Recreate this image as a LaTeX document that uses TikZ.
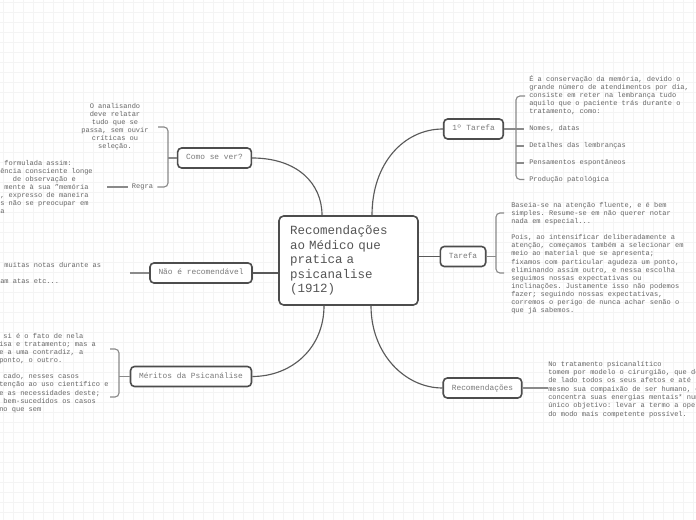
\documentclass[tikz,border=0pt]{standalone}
\usepackage{fontspec}
\setmainfont{Liberation Mono}
\usetikzlibrary{calc}
\frenchspacing
\definecolor{gridc}{HTML}{F4F4F4}
\definecolor{nodeb}{HTML}{4D4D4D}
\definecolor{linec}{HTML}{5A5A5A}
\definecolor{brkc}{HTML}{8A8A8A}
\definecolor{txtc}{HTML}{666666}
\definecolor{btxt}{HTML}{7A7A7A}
\definecolor{ctxt}{HTML}{555555}
\newcommand{\sst}{\rule{0pt}{6.11pt}}
\begin{document}
\begin{tikzpicture}[x=0.75pt,y=-0.75pt,
  branch/.style={draw=nodeb, line width=1.2pt, rounded corners=3pt, fill=white, text=btxt,
    font=\fontsize{5.9}{7}\selectfont, minimum height=15pt, inner xsep=6.4pt, inner ysep=0pt,
    text height=4.2pt, text depth=1.2pt},
  central/.style={draw=nodeb, line width=1.2pt, rounded corners=3.5pt, fill=white, text=ctxt,
    font=\fontsize{9.375}{10.9}\selectfont, minimum width=104.25pt, minimum height=66.75pt,
    text width=87.75pt, align=left, inner sep=0pt},
  block/.style={text=txtc, font=\fontsize{5.25}{6.11}\selectfont, inner sep=0pt, align=left, anchor=north west},
  cblock/.style={block, align=center, anchor=north},
  item/.style={text=txtc, font=\fontsize{5.25}{6.11}\selectfont, inner sep=0pt, anchor=west,
    text height=4pt, text depth=1.25pt},
  conn/.style={draw=linec, line width=0.85pt},
  brk/.style={draw=brkc, line width=0.85pt, rounded corners=3pt},
]
\clip (0,0) rectangle (696,520);
\fill[white] (0,0) rectangle (696,520);
\foreach \gx in {3,13,...,693} \draw[gridc, line width=0.5pt] (\gx,0) -- (\gx,520);
\foreach \gy in {2,12,...,512} \draw[gridc, line width=0.5pt] (0,\gy) -- (696,\gy);

% central node
\node[central] (center) at (348.5,260.5) {Recomendações\\ao Médico que\\pratica a\\psicanalise\\(1912)};

% branch nodes
\node[branch] (como) at (214.5,158) {Como se ver?};
\node[branch] (nao) at (201,273) {Não é recomendável};
\node[branch] (meritos) at (191,376.5) {Méritos da Psicanálise};
\node[branch] (tarefa1) at (473.5,129) {1º Tarefa};
\node[branch] (tarefa) at (463,256.5) {Tarefa};
\node[branch] (recom) at (482.5,388) {Recomendações};

% main connectors
\draw[conn] (como.east) .. controls (297,158) and ($(center.north)+(-26.5,-32)$) .. ($(center.north)+(-26.5,0)$);
\draw[conn] ($(center.north)+(23.5,0)$) .. controls ($(center.north)+(23.5,-52)$) and (404,129) .. (tarefa1.west);
\draw[conn] ($(center.south)+(-24.5,0)$) .. controls ($(center.south)+(-24.5,42)$) and (292,376.5) .. (meritos.east);
\draw[conn] ($(center.south)+(22.5,0)$) .. controls ($(center.south)+(22.5,48)$) and (405,388) .. (recom.west);
\draw[conn] (nao.east) -- (nao.east -| center.west);
\draw[conn] (tarefa.west) -- (tarefa.west -| center.east);

% Como se ver?
\node[cblock] (comotxt) at (115,99.65) {\sst O analisando\\deve relatar\\tudo que se\\passa, sem ouvir\\críticas ou\\seleção.};
\node[text=txtc, font=\fontsize{5.25}{6.11}\selectfont, inner xsep=3pt, inner ysep=0pt, text height=4pt, text depth=1.25pt] (regra) at (142.5,187) {Regra};
\draw[brk] (como.west) -- (168,158);
\draw[brk] (158,127) -- (168,127) -- (168,187) -- (regra.east);
\coordinate (regraend) at (107,187);
\draw[brk] (regra.west) -- (regraend);
\node[block] (regratxt) at (0,156.65) {\sst~formulada assim:\\ência consciente longe\\~~~de observação e\\~mente à sua "memória\\, expresso de maneira\\s não se preocupar em\\a};

% Nao e recomendavel
\coordinate (naoend) at (130,273);
\draw[brk] (nao.west) -- (naoend);
\node[block] (naotxt) at (0,258.65) {\sst~muitas notas durante as\\[6.11pt]am atas etc...};

% Meritos
\draw[brk] (meritos.west) -- (119,376.5);
\draw[brk] (110,349) -- (119,349) -- (119,397) -- (110,397);
\node[block] (merittxt) at (-1,329.65) {\sst~si é o fato de nela\\isa e tratamento; mas a\\e a uma contradiz, a\\ponto, o outro.\\[6.11pt]~cado, nesses casos\\tenção ao uso científico e\\e as necessidades deste;\\~bem-sucedidos os casos\\no que sem};

% 1o Tarefa
\node[block] (t1txt) at (529,72.65) {\sst É a conservação da memória, devido o\\grande número de atendimentos por dia,\\consiste em reter na lembrança tudo\\aquilo que o paciente trás durante o\\tratamento, como:};
\node[item] (it1) at (529,129) {Nomes, datas};
\node[item] (it2) at (529,146) {Detalhes das lembranças};
\node[item] (it3) at (529,163) {Pensamentos espontâneos};
\node[item] (it4) at (529,179.5) {Produção patológica};
\draw[brk] (tarefa1.east) -- ([xshift=-3.5pt]it1.west);
\draw[brk] (525,96) -- (516,96) -- (516,179.5) -- ([xshift=-3.5pt]it4.west);
\draw[brk] (516,146) -- ([xshift=-3.5pt]it2.west);
\draw[brk] (516,163) -- ([xshift=-3.5pt]it3.west);

% Tarefa
\draw[brk] (tarefa.east) -- (496,256.5);
\draw[brk] (504,213) -- (496,213) -- (496,273) -- (504,273);
\node[block] (tartxt) at (511,198.65) {\sst Baseia-se na atenção fluente, e é bem\\simples. Resume-se em não querer notar\\nada em especial...\\[6.11pt]Pois, ao intensificar deliberadamente a\\atenção, começamos também a selecionar em\\meio ao material que se apresenta;\\fixamos com particular agudeza um ponto,\\eliminando assim outro, e nessa escolha\\seguimos nossas expectativas ou\\inclinações. Justamente isso não podemos\\fazer; seguindo nossas expectativas,\\corremos o perigo de nunca achar senão o\\que já sabemos.};

% Recomendacoes
\node[block, font=\fontsize{5.25}{6.25}\selectfont] (rectxt) at (548,357.65) {\sst No tratamento psicanalítico\\tomem por modelo o cirurgião, que de\\de lado todos os seus afetos e até\\mesmo sua compaixão de ser humano, e\\concentra suas energias mentais* num\\único objetivo: levar a termo a oper\\do modo mais competente possível.};
\draw[brk] (recom.east) -- (rectxt.west |- recom.east);
\end{tikzpicture}
\end{document}
